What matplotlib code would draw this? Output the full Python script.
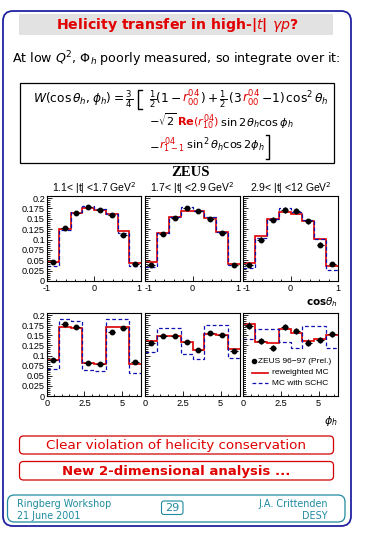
import numpy as np
import matplotlib
matplotlib.use('Agg')
import matplotlib.pyplot as plt
import matplotlib.transforms as mtransforms
from matplotlib.patches import FancyBboxPatch, Rectangle
from matplotlib.ticker import MultipleLocator, FuncFormatter

plt.rcParams['mathtext.fontset'] = 'dejavusans'
plt.rcParams['font.family'] = ['DejaVu Sans']

# ---------------- data ----------------
cos_edges = np.linspace(-1, 1, 9)
phi_edges = np.linspace(0, 2 * np.pi, 9)
t_bins = ["1.1< |t| <1.7 GeV$^2$", "1.7< |t| <2.9 GeV$^2$", "2.9< |t| <12 GeV$^2$"]

cos_data = [[0.045, 0.129, 0.164, 0.179, 0.172, 0.159, 0.110, 0.042],
            [0.039, 0.113, 0.153, 0.177, 0.168, 0.149, 0.116, 0.039],
            [0.039, 0.100, 0.148, 0.172, 0.170, 0.144, 0.088, 0.040]]
cos_err = [[0.003, 0.003, 0.003, 0.003, 0.003, 0.003, 0.003, 0.003],
           [0.003, 0.003, 0.003, 0.003, 0.003, 0.003, 0.003, 0.003],
           [0.005, 0.006, 0.006, 0.007, 0.006, 0.006, 0.005, 0.004]]
cos_rew = [[0.045, 0.126, 0.165, 0.175, 0.172, 0.161, 0.120, 0.043],
           [0.045, 0.115, 0.154, 0.168, 0.170, 0.151, 0.117, 0.041],
           [0.043, 0.108, 0.149, 0.167, 0.161, 0.145, 0.101, 0.037]]
cos_schc = [[0.037, 0.124, 0.166, 0.180, 0.173, 0.161, 0.116, 0.036],
            [0.034, 0.115, 0.155, 0.179, 0.170, 0.155, 0.117, 0.039],
            [0.031, 0.103, 0.149, 0.176, 0.166, 0.147, 0.101, 0.027]]

phi_data = [[0.090, 0.178, 0.170, 0.081, 0.078, 0.159, 0.167, 0.083],
            [0.132, 0.149, 0.148, 0.134, 0.114, 0.156, 0.151, 0.112],
            [0.174, 0.136, 0.119, 0.171, 0.161, 0.132, 0.138, 0.153]]
phi_err = [[0.003, 0.003, 0.003, 0.003, 0.003, 0.003, 0.003, 0.003],
           [0.003, 0.003, 0.003, 0.003, 0.003, 0.003, 0.003, 0.003],
           [0.008, 0.008, 0.008, 0.008, 0.008, 0.008, 0.008, 0.008]]
phi_rew = [[0.089, 0.171, 0.169, 0.082, 0.078, 0.170, 0.171, 0.079],
           [0.136, 0.149, 0.147, 0.133, 0.114, 0.152, 0.151, 0.115],
           [0.177, 0.134, 0.130, 0.165, 0.155, 0.136, 0.140, 0.151]]
phi_schc = [[0.067, 0.190, 0.185, 0.064, 0.062, 0.189, 0.189, 0.058],
            [0.108, 0.167, 0.167, 0.103, 0.091, 0.175, 0.175, 0.093],
            [0.140, 0.165, 0.165, 0.134, 0.119, 0.174, 0.174, 0.119]]

legend_labels = ["ZEUS 96\u221297 (Prel.)", "reweighted MC", "MC with SCHC"]

# ---------------- figure ----------------
W, H = 365, 535
fig = plt.figure(figsize=(W / 100, H / 100), dpi=100)
bg = fig.add_axes([0, 0, 1, 1])
bg.set_xlim(0, W)
bg.set_ylim(H, 0)
bg.axis('off')
bg.set_zorder(0)

BLUE = '#2222a0'
RED = '#e00000'
TEAL = '#1f8aa0'
HRED = '#dd0000'
HBLUE = '#1010b0'

# outer frame
bg.add_patch(FancyBboxPatch((3, 11), 348, 515, boxstyle="round,pad=0,rounding_size=10",
                            fc='white', ec=BLUE, lw=1.3))
# title bar
bg.add_patch(Rectangle((19, 14), 314, 21, fc='#e2e2e2', ec='none'))
bg.text(177, 25, "Helicity transfer in high-|$t$| $\\gamma p$?", color=RED, fontsize=10.2,
        fontweight='bold', ha='center', va='center')

bg.text(12, 59, "At low $Q^2$, $\\Phi_h$ poorly measured, so integrate over it:",
        fontsize=9.1, ha='left', va='center')

# formula box
bg.add_patch(Rectangle((19.5, 82.5), 314.5, 80, fc='white', ec='black', lw=0.9))

fig.canvas.draw()
renderer = fig.canvas.get_renderer()


def seq(pieces, x, y, size):
    for s, c in pieces:
        t = bg.text(x, y, s, color=c, fontsize=size, ha='left', va='baseline')
        x += t.get_window_extent(renderer).width
    return x


FS = 8.8
FS2 = 8.2
seq([("$W(\\cos\\theta_h,\\phi_h)=\\frac{3}{4}$", 'k')], 33, 103, FS)
seq([("$\\frac{1}{2}(1-$", 'k'), ("$r^{04}_{00}$", RED), ("$)+\\frac{1}{2}\\,(3$", 'k'),
     ("$r^{04}_{00}$", RED), ("$-1)\\,\\cos^2\\theta_h$", 'k')], 149, 103, FS)
seq([("$-\\sqrt{2}$", 'k'), ("$\\mathbf{Re}(r^{04}_{10})$", RED),
     ("$\\,\\sin2\\theta_h\\cos\\phi_h$", 'k')], 149, 126, FS2)
seq([("$-$", 'k'), ("$r^{04}_{1-1}$", RED), ("$\\,\\sin^2\\theta_h\\cos2\\phi_h$", 'k')], 149, 149, FS2)
# brackets
bg.plot([141.5, 138, 138, 141.5], [90, 90, 109, 109], color='k', lw=1.0)
bg.plot([265.5, 269, 269, 265.5], [135, 135, 159, 159], color='k', lw=1.0)

bg.text(190, 172, "ZEUS", fontsize=10.5, fontweight='bold', family='Liberation Serif',
        ha='center', va='center')

# ---------------- panels ----------------
px = [(47, 141), (145, 240), (243, 338)]
top_y = (196, 281)
bot_y = (313, 396)


def mkax(x0, x1, y0, y1):
    ax = fig.add_axes([x0 / W, 1 - y1 / H, (x1 - x0) / W, (y1 - y0) / H])
    ax.set_zorder(2)
    return ax


def nfmt(v, pos):
    s = ("%.3f" % v).rstrip('0').rstrip('.')
    if s == '-0':
        s = '0'
    return s


def style(ax, first, xmaj, xmin, xlim):
    ax.set_xlim(*xlim)
    ax.set_ylim(0, 0.205)
    ax.yaxis.set_major_locator(MultipleLocator(0.025))
    ax.yaxis.set_minor_locator(MultipleLocator(0.005))
    ax.xaxis.set_major_locator(MultipleLocator(xmaj))
    ax.xaxis.set_minor_locator(MultipleLocator(xmin))
    ax.xaxis.set_major_formatter(FuncFormatter(nfmt))
    ax.tick_params(which='both', direction='in', top=False, right=False,
                   labelsize=6.6, pad=2.5, width=0.6)
    ax.tick_params(axis='y', pad=1.5)
    ax.tick_params(which='major', length=3.5)
    ax.tick_params(which='minor', length=1.8)
    if first:
        ax.yaxis.set_major_formatter(FuncFormatter(nfmt))
    else:
        ax.yaxis.set_major_formatter(FuncFormatter(lambda v, p: ''))
    for sp in ax.spines.values():
        sp.set_linewidth(0.8)


def fix_labels(ax, i):
    fig.canvas.draw()
    for lab in ax.get_xticklabels() + ax.get_yticklabels():
        lab.set_family('Liberation Sans')
    labs = ax.get_xticklabels()
    locs = ax.get_xticks()
    for lab, loc in zip(labs, locs):
        if abs(loc - ax.get_xlim()[0]) < 1e-9 and i > 0 and loc < 0:
            lab.set_horizontalalignment('left')
        if abs(loc - ax.get_xlim()[1]) < 1e-9 and i < 2:
            lab.set_horizontalalignment('right')


cos_centers = 0.5 * (cos_edges[:-1] + cos_edges[1:])
phi_centers = 0.5 * (phi_edges[:-1] + phi_edges[1:])

axes_all = []
for i in range(3):
    x0, x1 = px[i]
    ax = mkax(x0, x1, *top_y)
    ax.stairs(cos_rew[i], cos_edges, baseline=None, color=HRED, lw=1.2)
    ax.stairs(cos_schc[i], cos_edges, baseline=None, color=HBLUE, lw=0.9, ls=(0, (3, 2)))
    ax.errorbar(cos_centers, cos_data[i], yerr=cos_err[i], xerr=0.075, fmt='o', color='k',
                ms=3.2, elinewidth=0.8, capsize=0)
    style(ax, i == 0, 1, 0.2, (cos_edges[0], cos_edges[-1]))
    ax.set_title(t_bins[i], fontsize=7.5, family='Liberation Sans', pad=1.0)
    axes_all.append((ax, i))

    axb = mkax(x0, x1, *bot_y)
    axb.stairs(phi_rew[i], phi_edges, baseline=None, color=HRED, lw=1.2)
    axb.stairs(phi_schc[i], phi_edges, baseline=None, color=HBLUE, lw=0.9, ls=(0, (3, 2)))
    axb.errorbar(phi_centers, phi_data[i], yerr=phi_err[i], xerr=0.25, fmt='o', color='k',
                 ms=3.2, elinewidth=0.8, capsize=0)
    style(axb, i == 0, 2.5, 0.5, (phi_edges[0], phi_edges[-1]))
    axes_all.append((axb, 3))
    if i == 2:
        tr = mtransforms.blended_transform_factory(axb.transAxes, axb.transData)
        axb.add_patch(Rectangle((0.03, 0.012), 0.96, 0.088, transform=tr, fc='white',
                                ec='none', zorder=3))
        fsz = 6.0
        axb.plot([0.116], [0.086], marker='o', ms=3.0, color='k', transform=tr, zorder=4)
        axb.text(0.155, 0.086, legend_labels[0], transform=tr, fontsize=fsz,
                 family='Liberation Sans', va='center', ha='left', zorder=4)
        axb.plot([0.09, 0.26], [0.058, 0.058], color=HRED, lw=1.2, transform=tr, zorder=4)
        axb.text(0.31, 0.058, legend_labels[1], transform=tr, fontsize=fsz,
                 family='Liberation Sans', va='center', ha='left', zorder=4)
        axb.plot([0.09, 0.26], [0.031, 0.031], color=HBLUE, lw=0.9, ls=(0, (3, 2)),
                 transform=tr, zorder=4)
        axb.text(0.31, 0.031, legend_labels[2], transform=tr, fontsize=fsz,
                 family='Liberation Sans', va='center', ha='left', zorder=4)

for ax, i in axes_all:
    fix_labels(ax, i)

bg.text(338, 302, "cos$\\theta_h$", fontsize=7.5, fontweight='bold', ha='right', va='center')
bg.text(338, 421, "$\\phi_h$", fontsize=8, ha='right', va='center')

# ---------------- bottom boxes ----------------
bg.add_patch(FancyBboxPatch((19.5, 436), 314, 18, boxstyle="round,pad=0,rounding_size=4",
                            fc='white', ec='#d00000', lw=0.9))
bg.text(176.5, 445.5, "Clear violation of helicity conservation", color=RED, fontsize=9.7,
        ha='center', va='center')
bg.add_patch(FancyBboxPatch((19.5, 461.5), 314, 18.5, boxstyle="round,pad=0,rounding_size=4",
                            fc='white', ec='#d00000', lw=0.9))
bg.text(176.5, 471, "New 2-dimensional analysis ...", color=RED, fontsize=9.5,
        fontweight='bold', ha='center', va='center')

# footer
bg.add_patch(FancyBboxPatch((7.5, 495), 337.5, 27, boxstyle="round,pad=0,rounding_size=7",
                            fc='white', ec=TEAL, lw=0.9))
bg.text(17, 504, "Ringberg Workshop", color=TEAL, fontsize=6.9, ha='left', va='center')
bg.text(17, 516, "21 June 2001", color=TEAL, fontsize=6.9, ha='left', va='center')
bg.text(328, 504, "J.A. Crittenden", color=TEAL, fontsize=6.9, ha='right', va='center')
bg.text(328, 516, "DESY", color=TEAL, fontsize=6.9, ha='right', va='center')
bg.add_patch(FancyBboxPatch((161.5, 501), 21.5, 13.5, boxstyle="round,pad=0,rounding_size=2.5",
                            fc='white', ec=TEAL, lw=0.8))
bg.text(172.3, 508, "29", color=TEAL, fontsize=8, ha='center', va='center')

fig.savefig('out.png', dpi=100)
